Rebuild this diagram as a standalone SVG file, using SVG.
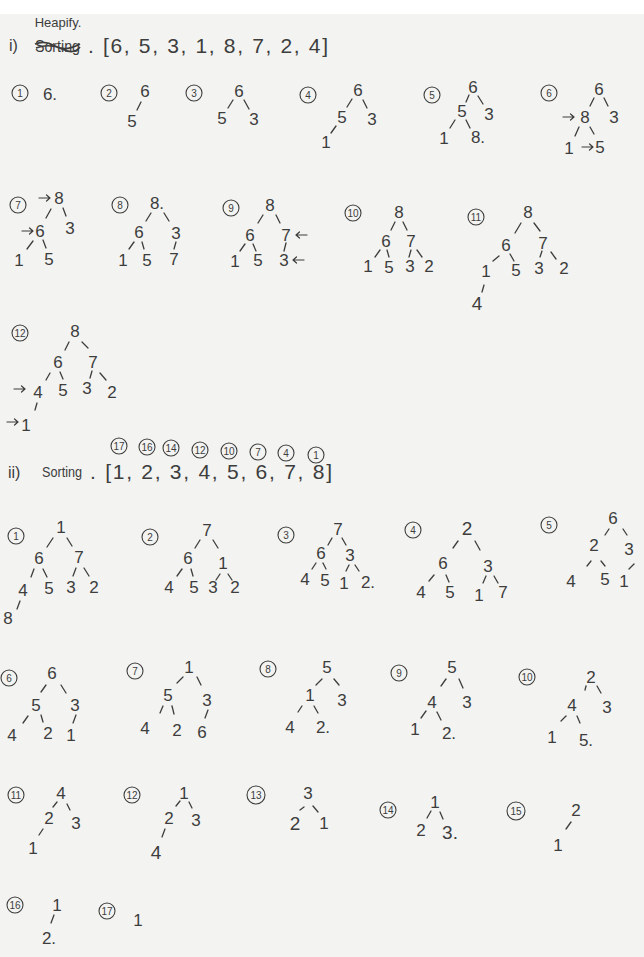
<svg xmlns="http://www.w3.org/2000/svg" width="644" height="957" viewBox="0 0 644 957">
<style>
.t{font-family:"Liberation Sans",Arial,sans-serif;font-size:17px;fill:#3d3d3d;text-anchor:middle;dominant-baseline:central}
.s{font-size:10px}
.h{text-anchor:start;font-size:21px}
.c{fill:none;stroke:#3d3d3d;stroke-width:1.1}
.ar{fill:none;stroke:#3d3d3d;stroke-width:1.2;stroke-linecap:round;stroke-linejoin:round}
#connectors line{stroke:#3d3d3d;stroke-width:1.3;stroke-linecap:round}
</style>
<defs>
<path id="arr" class="ar" d="M-6 0H5M1.5-3L5 0L1.5 3"/>
</defs>
<rect width="644" height="957" fill="#f3f3f1"/>
<rect width="644" height="14" fill="#ffffff"/>

<g id="title-heapify">
<text class="t" x="58" y="22" style="font-size:13px">Heapify.</text>
<text class="t h" x="9" y="45" style="font-size:16px">i)</text>
<text class="t h" x="35" y="46" style="font-size:16px" textLength="45" lengthAdjust="spacingAndGlyphs">Sorting</text>
<path d="M35 44 Q45 40 55 46 T80 44 M36 48 Q50 43 62 49 T80 47" fill="none" stroke="#3d3d3d" stroke-width="1.6"/>
<text class="t h" x="88" y="45" textLength="240" lengthAdjust="spacing">. [6, 5, 3, 1, 8, 7, 2, 4]</text>
</g>

<g id="heap-1"><circle class="c" cx="20" cy="93" r="8"/><text class="t s" x="20" y="93">1</text><text class="t" x="50" y="94">6.</text></g>
<g id="heap-2"><circle class="c" cx="109" cy="93" r="8"/><text class="t s" x="109" y="93">2</text><text class="t" x="145" y="91">6</text><text class="t" x="132" y="121">5</text></g>
<g id="heap-3"><circle class="c" cx="194" cy="93" r="8"/><text class="t s" x="194" y="93">3</text><text class="t" x="239" y="91">6</text><text class="t" x="222" y="118">5</text><text class="t" x="254" y="119">3</text></g>
<g id="heap-4"><circle class="c" cx="308" cy="95" r="8"/><text class="t s" x="308" y="95">4</text><text class="t" x="358" y="90">6</text><text class="t" x="342" y="117">5</text><text class="t" x="372" y="119">3</text><text class="t" x="326" y="142">1</text></g>
<g id="heap-5"><circle class="c" cx="432" cy="95" r="8"/><text class="t s" x="432" y="95">5</text><text class="t" x="473" y="87">6</text><text class="t" x="462" y="111">5</text><text class="t" x="489" y="114">3</text><text class="t" x="444" y="138">1</text><text class="t" x="478" y="137">8.</text></g>
<g id="heap-6"><circle class="c" cx="549" cy="93" r="8"/><text class="t s" x="549" y="93">6</text><text class="t" x="599" y="89">6</text><use href="#arr" x="569" y="117"/><text class="t" x="585" y="117">8</text><text class="t" x="614" y="117">3</text><text class="t" x="569" y="148">1</text><use href="#arr" x="588" y="147"/><text class="t" x="600" y="147">5</text></g>

<g id="heap-7"><circle class="c" cx="18" cy="205" r="8"/><text class="t s" x="18" y="205">7</text><use href="#arr" x="45" y="198"/><text class="t" x="59" y="198">8</text><text class="t" x="70" y="228">3</text><use href="#arr" x="28" y="231"/><text class="t" x="40" y="231">6</text><text class="t" x="19" y="260">1</text><text class="t" x="49" y="259">5</text></g>
<g id="heap-8"><circle class="c" cx="120" cy="205" r="8"/><text class="t s" x="120" y="205">8</text><text class="t" x="157" y="203">8.</text><text class="t" x="139" y="232">6</text><text class="t" x="176" y="233">3</text><text class="t" x="123" y="260">1</text><text class="t" x="147" y="260">5</text><text class="t" x="174" y="259">7</text></g>
<g id="heap-9"><circle class="c" cx="231" cy="208" r="8"/><text class="t s" x="231" y="208">9</text><text class="t" x="270" y="205">8</text><text class="t" x="250" y="235">6</text><text class="t" x="286" y="235">7</text><use href="#arr" transform="translate(301,235) scale(-1,1)"/><text class="t" x="235" y="261">1</text><text class="t" x="258" y="260">5</text><text class="t" x="284" y="260">3</text><use href="#arr" transform="translate(298,260) scale(-1,1)"/></g>
<g id="heap-10"><circle class="c" cx="353" cy="213" r="8"/><text class="t s" x="353" y="213">10</text><text class="t" x="399" y="212">8</text><text class="t" x="386" y="241">6</text><text class="t" x="411" y="241">7</text><text class="t" x="368" y="266">1</text><text class="t" x="389" y="267">5</text><text class="t" x="410" y="266">3</text><text class="t" x="429" y="266">2</text></g>
<g id="heap-11"><circle class="c" cx="476" cy="217" r="8"/><text class="t s" x="476" y="217">11</text><text class="t" x="528" y="212">8</text><text class="t" x="506" y="245">6</text><text class="t" x="543" y="243">7</text><text class="t" x="486" y="271">1</text><text class="t" x="516" y="270">5</text><text class="t" x="539" y="268">3</text><text class="t" x="564" y="268">2</text><text class="t" x="477" y="303" style="font-size:19px">4</text></g>
<g id="heap-12"><circle class="c" cx="20" cy="333" r="8"/><text class="t s" x="20" y="333">12</text><text class="t" x="75" y="331">8</text><text class="t" x="58" y="362">6</text><text class="t" x="93" y="362">7</text><use href="#arr" x="20" y="389"/><text class="t" x="38" y="392">4</text><text class="t" x="63" y="390">5</text><text class="t" x="87" y="388">3</text><text class="t" x="112" y="392">2</text><use href="#arr" x="13" y="422"/><text class="t" x="26" y="425">1</text></g>

<g id="title-sorting">
<g id="order">
<circle class="c" cx="119" cy="446" r="8"/><text class="t s" x="119" y="446">17</text>
<circle class="c" cx="147" cy="447" r="8"/><text class="t s" x="147" y="447">16</text>
<circle class="c" cx="171" cy="448" r="8"/><text class="t s" x="171" y="448">14</text>
<circle class="c" cx="200" cy="450" r="8"/><text class="t s" x="200" y="450">12</text>
<circle class="c" cx="229" cy="451" r="8"/><text class="t s" x="229" y="451">10</text>
<circle class="c" cx="258" cy="452" r="8"/><text class="t s" x="258" y="452">7</text>
<circle class="c" cx="286" cy="453" r="8"/><text class="t s" x="286" y="453">4</text>
<circle class="c" cx="316" cy="455" r="8"/><text class="t s" x="316" y="455">1</text>
</g>
<text class="t h" x="8" y="472" style="font-size:16px">ii)</text>
<text class="t h" x="42" y="471" style="font-size:15px" textLength="40" lengthAdjust="spacingAndGlyphs">Sorting</text>
<text class="t h" x="90" y="471" textLength="242" lengthAdjust="spacing">. [1, 2, 3, 4, 5, 6, 7, 8]</text>
</g>

<g id="sort-1"><circle class="c" cx="16" cy="536" r="8"/><text class="t s" x="16" y="536">1</text><text class="t" x="61" y="527">1</text><text class="t" x="39" y="558">6</text><text class="t" x="79" y="557">7</text><text class="t" x="23" y="590">4</text><text class="t" x="49" y="588">5</text><text class="t" x="71" y="587">3</text><text class="t" x="94" y="587">2</text><text class="t" x="8" y="618">8</text></g>
<g id="sort-2"><circle class="c" cx="150" cy="537" r="8"/><text class="t s" x="150" y="537">2</text><text class="t" x="207" y="530">7</text><text class="t" x="188" y="558">6</text><text class="t" x="223" y="563">1</text><text class="t" x="169" y="587">4</text><text class="t" x="194" y="587">5</text><text class="t" x="213" y="587">3</text><text class="t" x="235" y="587">2</text></g>
<g id="sort-3"><circle class="c" cx="286" cy="535" r="8"/><text class="t s" x="286" y="535">3</text><text class="t" x="338" y="529">7</text><text class="t" x="321" y="553">6</text><text class="t" x="350" y="555">3</text><text class="t" x="305" y="579">4</text><text class="t" x="325" y="580">5</text><text class="t" x="344" y="583">1</text><text class="t" x="368" y="582">2.</text></g>
<g id="sort-4"><circle class="c" cx="413" cy="530" r="8"/><text class="t s" x="413" y="530">4</text><text class="t" x="467" y="528" style="font-size:19px">2</text><text class="t" x="443" y="563">6</text><text class="t" x="488" y="566">3</text><text class="t" x="421" y="592">4</text><text class="t" x="450" y="592">5</text><text class="t" x="479" y="595">1</text><text class="t" x="503" y="592">7</text></g>
<g id="sort-5"><circle class="c" cx="549" cy="525" r="8"/><text class="t s" x="549" y="525">5</text><text class="t" x="613" y="518">6</text><text class="t" x="594" y="545">2</text><text class="t" x="629" y="549">3</text><text class="t" x="571" y="581">4</text><text class="t" x="605" y="579">5</text><text class="t" x="624" y="581">1</text></g>

<g id="sort-6"><circle class="c" cx="9" cy="678" r="8"/><text class="t s" x="9" y="678">6</text><text class="t" x="52" y="673">6</text><text class="t" x="36" y="705">5</text><text class="t" x="75" y="705">3</text><text class="t" x="12" y="735">4</text><text class="t" x="48" y="733">2</text><text class="t" x="71" y="735">1</text></g>
<g id="sort-7"><circle class="c" cx="135" cy="671" r="8"/><text class="t s" x="135" y="671">7</text><text class="t" x="189" y="667">1</text><text class="t" x="168" y="695">5</text><text class="t" x="207" y="700">3</text><text class="t" x="145" y="728">4</text><text class="t" x="177" y="730">2</text><text class="t" x="202" y="732">6</text></g>
<g id="sort-8"><circle class="c" cx="268" cy="669" r="8"/><text class="t s" x="268" y="669">8</text><text class="t" x="327" y="667">5</text><text class="t" x="310" y="695">1</text><text class="t" x="342" y="700">3</text><text class="t" x="290" y="727">4</text><text class="t" x="323" y="727">2.</text></g>
<g id="sort-9"><circle class="c" cx="399" cy="673" r="8"/><text class="t s" x="399" y="673">9</text><text class="t" x="452" y="667">5</text><text class="t" x="432" y="702">4</text><text class="t" x="467" y="702">3</text><text class="t" x="415" y="729">1</text><text class="t" x="449" y="733">2.</text></g>
<g id="sort-10"><circle class="c" cx="527" cy="677" r="8"/><text class="t s" x="527" y="677">10</text><text class="t" x="591" y="677">2</text><text class="t" x="572" y="705">4</text><text class="t" x="607" y="707">3</text><text class="t" x="552" y="737">1</text><text class="t" x="586" y="740">5.</text></g>

<g id="sort-11"><circle class="c" cx="16" cy="795" r="8"/><text class="t s" x="16" y="795">11</text><text class="t" x="61" y="793">4</text><text class="t" x="49" y="818">2</text><text class="t" x="76" y="823">3</text><text class="t" x="33" y="848">1</text></g>
<g id="sort-12"><circle class="c" cx="132" cy="795" r="8"/><text class="t s" x="132" y="795">12</text><text class="t" x="184" y="793">1</text><text class="t" x="169" y="818">2</text><text class="t" x="196" y="820">3</text><text class="t" x="156" y="852" style="font-size:19px">4</text></g>
<g id="sort-13"><circle class="c" cx="256" cy="795" r="9"/><text class="t s" x="256" y="795">13</text><text class="t" x="308" y="793">3</text><text class="t" x="295" y="823" style="font-size:19px">2</text><text class="t" x="324" y="823">1</text></g>
<g id="sort-14"><circle class="c" cx="388" cy="810" r="8"/><text class="t s" x="388" y="810">14</text><text class="t" x="435" y="802">1</text><text class="t" x="421" y="830">2</text><text class="t" x="450" y="832" style="font-size:19px">3.</text></g>
<g id="sort-15"><circle class="c" cx="516" cy="811" r="9"/><text class="t s" x="516" y="811">15</text><text class="t" x="576" y="810">2</text><text class="t" x="558" y="845">1</text></g>
<g id="sort-16"><circle class="c" cx="15" cy="905" r="8"/><text class="t s" x="15" y="905">16</text><text class="t" x="57" y="905">1</text><text class="t" x="49" y="938">2.</text></g>
<g id="sort-17"><circle class="c" cx="107" cy="911" r="8"/><text class="t s" x="107" y="911">17</text><text class="t" x="138" y="920">1</text></g>

<g id="connectors">
<line x1="141" y1="102" x2="137" y2="110"/>
<line x1="233" y1="100" x2="228" y2="108"/><line x1="244" y1="100" x2="249" y2="109"/>
<line x1="352" y1="99" x2="347" y2="107"/><line x1="363" y1="100" x2="367" y2="108"/><line x1="336" y1="126" x2="331" y2="133"/>
<line x1="469" y1="95" x2="466" y2="102"/><line x1="478" y1="96" x2="483" y2="104"/><line x1="455" y1="120" x2="450" y2="128"/><line x1="466" y1="120" x2="470" y2="128"/>
<line x1="594" y1="98" x2="590" y2="106"/><line x1="604" y1="98" x2="608" y2="106"/><line x1="579" y1="127" x2="575" y2="136"/><line x1="590" y1="127" x2="594" y2="134"/>

<line x1="51" y1="209" x2="46" y2="218"/><line x1="63" y1="208" x2="66" y2="216"/><line x1="33" y1="241" x2="27" y2="249"/><line x1="43" y1="240" x2="46" y2="248"/>
<line x1="151" y1="213" x2="146" y2="221"/><line x1="164" y1="213" x2="169" y2="221"/><line x1="134" y1="242" x2="129" y2="249"/><line x1="142" y1="242" x2="144" y2="249"/><line x1="176" y1="242" x2="174" y2="249"/>
<line x1="263" y1="215" x2="258" y2="223"/><line x1="276" y1="215" x2="280" y2="223"/><line x1="245" y1="244" x2="240" y2="251"/><line x1="253" y1="244" x2="256" y2="251"/><line x1="286" y1="243" x2="284" y2="251"/>
<line x1="395" y1="222" x2="391" y2="230"/><line x1="403" y1="222" x2="407" y2="230"/><line x1="380" y1="250" x2="375" y2="257"/><line x1="387" y1="250" x2="389" y2="257"/><line x1="411" y1="250" x2="409" y2="257"/><line x1="417" y1="250" x2="422" y2="257"/>
<line x1="521" y1="223" x2="515" y2="233"/><line x1="534" y1="223" x2="540" y2="231"/><line x1="499" y1="256" x2="493" y2="261"/><line x1="510" y1="254" x2="514" y2="261"/><line x1="542" y1="251" x2="540" y2="257"/><line x1="551" y1="252" x2="556" y2="259"/><line x1="484" y1="285" x2="482" y2="292"/>
<line x1="69" y1="342" x2="65" y2="350"/><line x1="82" y1="342" x2="88" y2="348"/><line x1="50" y1="373" x2="46" y2="380"/><line x1="60" y1="372" x2="63" y2="379"/><line x1="92" y1="371" x2="90" y2="378"/><line x1="100" y1="373" x2="106" y2="380"/><line x1="37" y1="403" x2="35" y2="410"/>

<line x1="53" y1="538" x2="47" y2="547"/><line x1="67" y1="538" x2="72" y2="546"/><line x1="34" y1="569" x2="31" y2="577"/><line x1="43" y1="569" x2="47" y2="577"/><line x1="76" y1="568" x2="73" y2="576"/><line x1="84" y1="568" x2="89" y2="576"/><line x1="20" y1="601" x2="17" y2="609"/>
<line x1="200" y1="540" x2="195" y2="548"/><line x1="213" y1="540" x2="218" y2="548"/><line x1="182" y1="569" x2="177" y2="576"/><line x1="191" y1="569" x2="193" y2="576"/><line x1="220" y1="574" x2="216" y2="580"/><line x1="228" y1="574" x2="232" y2="580"/>
<line x1="332" y1="538" x2="328" y2="545"/><line x1="342" y1="538" x2="346" y2="545"/><line x1="316" y1="563" x2="312" y2="569"/><line x1="323" y1="563" x2="326" y2="569"/><line x1="349" y1="565" x2="346" y2="571"/><line x1="355" y1="565" x2="359" y2="571"/>
<line x1="458" y1="541" x2="453" y2="548"/><line x1="475" y1="541" x2="480" y2="550"/><line x1="434" y1="575" x2="429" y2="581"/><line x1="446" y1="575" x2="449" y2="582"/><line x1="486" y1="576" x2="483" y2="583"/><line x1="494" y1="576" x2="498" y2="583"/>
<line x1="609" y1="529" x2="605" y2="535"/><line x1="623" y1="529" x2="627" y2="535"/><line x1="591" y1="561" x2="587" y2="566"/><line x1="601" y1="561" x2="605" y2="566"/><line x1="634" y1="564" x2="629" y2="569"/>

<line x1="46" y1="685" x2="41" y2="692"/><line x1="61" y1="685" x2="66" y2="693"/><line x1="28" y1="716" x2="23" y2="723"/><line x1="41" y1="715" x2="43" y2="722"/><line x1="76" y1="715" x2="73" y2="723"/>
<line x1="183" y1="677" x2="177" y2="683"/><line x1="197" y1="677" x2="201" y2="685"/><line x1="163" y1="706" x2="160" y2="713"/><line x1="172" y1="706" x2="174" y2="714"/><line x1="208" y1="710" x2="205" y2="718"/>
<line x1="322" y1="679" x2="316" y2="685"/><line x1="334" y1="679" x2="339" y2="685"/><line x1="302" y1="706" x2="298" y2="712"/><line x1="314" y1="706" x2="318" y2="713"/>
<line x1="446" y1="679" x2="441" y2="686"/><line x1="459" y1="679" x2="463" y2="688"/><line x1="426" y1="711" x2="421" y2="718"/><line x1="437" y1="712" x2="441" y2="720"/>
<line x1="586" y1="686" x2="585" y2="690"/><line x1="597" y1="686" x2="601" y2="693"/><line x1="566" y1="716" x2="561" y2="721"/><line x1="577" y1="716" x2="580" y2="723"/>

<line x1="57" y1="802" x2="53" y2="807"/><line x1="67" y1="804" x2="70" y2="810"/><line x1="43" y1="829" x2="39" y2="835"/>
<line x1="180" y1="801" x2="176" y2="806"/><line x1="189" y1="802" x2="192" y2="808"/><line x1="165" y1="829" x2="162" y2="837"/>
<line x1="304" y1="807" x2="300" y2="810"/><line x1="313" y1="806" x2="318" y2="812"/>
<line x1="431" y1="811" x2="427" y2="818"/><line x1="440" y1="812" x2="443" y2="819"/>
<line x1="571" y1="822" x2="566" y2="829"/>
<line x1="54" y1="915" x2="51" y2="923"/>
</g>
</svg>
